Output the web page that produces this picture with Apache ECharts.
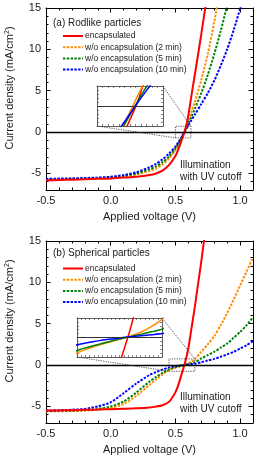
<!DOCTYPE html>
<html><head><meta charset="utf-8">
<script src="https://cdn.jsdelivr.net/npm/echarts@6/dist/echarts.min.js"></script>
<style>html,body{margin:0;padding:0;background:#fff}#c{width:258px;height:461px}</style>
</head><body><div id="c"></div>
<script>
// ---------------- data ----------------
const voltage = [-0.5,-0.4,-0.3,-0.2,-0.1,0,0.1,0.2,0.3,0.35,0.4,0.45,0.5,0.525,0.55,0.575,0.6,0.625,0.65,0.7,0.75,0.8,0.85,0.9,0.95,1.0,1.05,1.1];
const seriesNames = ['encapsulated','w/o encapsulation (2 min)','w/o encapsulation (5 min)','w/o encapsulation (10 min)'];

// (a) Rodlike particles
const rodEncap = [-5.85,-5.8,-5.75,-5.7,-5.65,-5.6,-5.5,-5.4,-5.2,-5.0,-4.65,-4.0,-2.9,-2.0,-0.9,0.2,2.0,4.5,6.9,11.8,17.0];
const rod2min  = [-5.75,-5.72,-5.7,-5.65,-5.6,-5.5,-5.35,-5.1,-4.7,-4.4,-3.9,-3.2,-2.2,-1.5,-0.6,0.4,1.4,2.5,3.6,6.3,9.4,13.3,17.5];
const rod5min  = [-5.7,-5.68,-5.65,-5.6,-5.55,-5.45,-5.3,-5.0,-4.5,-4.15,-3.65,-2.95,-2.0,-1.4,-0.65,0.2,1.0,1.9,2.8,4.7,6.9,9.4,12.2,15.3];
const rod10min = [-5.65,-5.62,-5.6,-5.55,-5.5,-5.4,-5.2,-4.85,-4.25,-3.85,-3.3,-2.6,-1.75,-1.2,-0.55,0.15,0.8,1.45,2.1,3.4,4.7,6.2,8.0,10.0,12.3,14.9,17.6];

// (b) Spherical particles
const sphEncap = [-5.5,-5.48,-5.45,-5.4,-5.37,-5.33,-5.28,-5.22,-5.12,-5.02,-4.85,-4.45,-3.3,-2.3,-1.0,0.3,2.0,4.5,7.0,12.5,18.5];
const sph2min  = [-5.6,-5.58,-5.55,-5.5,-5.4,-5.2,-4.7,-3.7,-2.4,-1.75,-1.15,-0.6,-0.3,-0.18,-0.07,0.05,0.2,0.42,0.7,1.6,2.5,3.5,4.8,6.3,7.9,9.6,11.3,13.0];
const sph5min  = [-5.55,-5.53,-5.5,-5.45,-5.3,-5.0,-4.4,-3.3,-2.0,-1.45,-0.95,-0.5,-0.27,-0.16,-0.06,0.03,0.12,0.22,0.32,0.8,1.2,1.6,2.1,2.6,3.3,4.0,4.8,5.8];
const sph10min = [-5.5,-5.45,-5.4,-5.3,-5.0,-4.5,-3.4,-2.2,-1.2,-0.85,-0.55,-0.28,-0.13,-0.07,-0.02,0.03,0.07,0.11,0.15,0.35,0.55,0.75,1.0,1.3,1.6,2.0,2.4,2.9];

const xMajorTicks = [-0.5,0,0.5,1.0];
const yMajorTicks = [-5,0,5,10,15];
const xRange = [-0.5,1.1];
const yRange = [-7,15];
const panelTitles = ['(a) Rodlike particles','(b) Spherical particles'];
const noteText = 'Illumination\nwith UV cutoff';
const xTitle = 'Applied voltage (V)';
const yTitle = 'Current density (mA/cm{sup|2})';
const zoomX = [[0.5,0.62],[0.45,0.65]];
const zoomY = [[-0.7,0.7],[-0.75,0.75]];

// ---------------- style / layout ----------------
const colors = ['#ff0000','#ff8c00','#008000','#0000ff'];
const FONT = '"Liberation Sans", Arial, sans-serif';
const TXT = '#1a1a1a';
const mainGrids  = [{left:46, top:8, width:207, height:182},{left:46, top:241, width:207, height:182}];
const insetGrids = [{left:97, top:86, width:66, height:40},{left:77, top:318, width:85, height:39}];
const legendTops = [31.5, 264];
const titleTops = [18.5, 248.5];
const noteTops = [158.5, 390.5];
const panels = [[rodEncap,rod2min,rod5min,rod10min],[sphEncap,sph2min,sph5min,sph10min]];

const grids=[], xAxes=[], yAxes=[], series=[], legends=[], titles=[], graphics=[];

function axisBase(gridIndex,min,max,pos){
  return {type:'value',gridIndex,min,max,position:pos,splitLine:{show:false},
    axisLine:{show:true,onZero:false,lineStyle:{color:'#000',width:1}},
    axisLabel:{show:false},
    axisTick:{show:true,inside:true,length:4.5,lineStyle:{color:'#000',width:1}},
    minorTick:{show:false}};
}
function pairs(arr){ return arr.map((v,i)=>[voltage[i],v]); }

const mainSeriesIdx=[], insetSeriesIdx=[];

panels.forEach((data,p)=>{
  const gMain = grids.length; grids.push(Object.assign({outerBoundsMode:'none',containLabel:false}, mainGrids[p]));
  const gIn = grids.length; grids.push(Object.assign({show:false,outerBoundsMode:'none',containLabel:false}, insetGrids[p]));

  const xMajor = xAxes.length;
  const xb = axisBase(gMain,xRange[0],xRange[1],'bottom');
  xb.axisTick.customValues = xMajorTicks;
  xb.axisLabel = {show:true,customValues:xMajorTicks,formatter:v=>v.toFixed(1),fontSize:11,color:TXT,fontFamily:FONT,margin:5};
  xb.name = xTitle; xb.nameLocation='middle'; xb.nameGap=21;
  xb.nameTextStyle={fontSize:11,color:TXT,fontFamily:FONT};
  xAxes.push(xb);
  const xbm = axisBase(gMain,xRange[0],xRange[1],'bottom'); xbm.interval=0.1; xbm.axisTick.length=2.5; xbm.axisLine.show=false; xAxes.push(xbm);
  const xt = axisBase(gMain,xRange[0],xRange[1],'top'); xt.axisTick.customValues=xMajorTicks; xAxes.push(xt);
  const xtm = axisBase(gMain,xRange[0],xRange[1],'top'); xtm.interval=0.1; xtm.axisTick.length=2.5; xtm.axisLine.show=false; xAxes.push(xtm);

  const yMajor = yAxes.length;
  const yl = axisBase(gMain,yRange[0],yRange[1],'left');
  yl.axisTick.customValues = yMajorTicks;
  yl.axisLabel = {show:true,customValues:yMajorTicks,fontSize:11,color:TXT,fontFamily:FONT,margin:5};
  yl.name = yTitle; yl.nameLocation='middle'; yl.nameGap=30;
  yl.nameTextStyle={fontSize:11,color:TXT,fontFamily:FONT,padding:[0,0,0,22],
    rich:{sup:{fontSize:7,verticalAlign:'top',padding:[0,0,5,0],color:TXT,fontFamily:FONT}}};
  yAxes.push(yl);
  const ylm = axisBase(gMain,yRange[0],yRange[1],'left'); ylm.interval=1; ylm.axisTick.length=2.5; ylm.axisLine.show=false; yAxes.push(ylm);
  const yr = axisBase(gMain,yRange[0],yRange[1],'right'); yr.axisTick.customValues=yMajorTicks; yAxes.push(yr);
  const yrm = axisBase(gMain,yRange[0],yRange[1],'right'); yrm.interval=1; yrm.axisTick.length=2.5; yrm.axisLine.show=false; yAxes.push(yrm);

  const xIn = xAxes.length;
  ['bottom','top'].forEach(pos=>{ const a=axisBase(gIn,zoomX[p][0],zoomX[p][1],pos); a.interval=0.01; a.axisTick.length=2;
    a.axisLine.lineStyle={color:'#333',width:0.8}; a.axisTick.lineStyle={color:'#555',width:0.7}; xAxes.push(a); });
  const yIn = yAxes.length;
  ['left','right'].forEach(pos=>{ const a=axisBase(gIn,zoomY[p][0],zoomY[p][1],pos); a.interval=(zoomY[p][1]-zoomY[p][0])/10; a.axisTick.length=2;
    a.axisLine.lineStyle={color:'#333',width:0.8}; a.axisTick.lineStyle={color:'#555',width:0.7}; yAxes.push(a); });

  data.forEach((arr,k)=>{
    const s = {type:'line',name:seriesNames[k],xAxisIndex:xMajor,yAxisIndex:yMajor,data:pairs(arr),
      symbol:'none',smooth:0.25,clip:true,animation:false,z:3+(k===0?1:0),
      lineStyle:{color:colors[k],width:2,type:k===0?'solid':[2.4,1.4]},itemStyle:{color:colors[k]}};
    if(k===0){
      s.markLine={silent:true,symbol:'none',animation:false,label:{show:false},
        lineStyle:{color:'#000',width:1.3,type:'solid'},data:[{yAxis:0}]};
      s.markArea={silent:true,animation:false,itemStyle:{color:'rgba(0,0,0,0)',borderColor:'#444',borderWidth:0.9,borderType:[1.2,1.2]},
        data:[[{xAxis:zoomX[p][0],yAxis:zoomY[p][0]},{xAxis:zoomX[p][1],yAxis:zoomY[p][1]}]]};
      mainSeriesIdx.push(series.length);
    }
    series.push(s);
  });
  data.forEach((arr,k)=>{
    const s = {type:'line',name:seriesNames[k],xAxisIndex:xIn,yAxisIndex:yIn,data:pairs(arr),
      symbol:'none',smooth:0.25,clip:true,animation:false,z:3,
      lineStyle:{color:colors[k],width:1.5,type:'solid'},itemStyle:{color:colors[k]}};
    if(k===0){
      s.markLine={silent:true,symbol:'none',animation:false,label:{show:false},
        lineStyle:{color:'#333',width:1,type:'solid'},data:[{yAxis:0}]};
      insetSeriesIdx.push(series.length);
    }
    series.push(s);
  });

  legends.push({data:seriesNames,orient:'vertical',left:62,top:legendTops[p],padding:0,
    itemWidth:20,itemHeight:9,itemGap:2.2,selectedMode:false,
    itemStyle:{opacity:0},lineStyle:{width:2},
    textStyle:{fontSize:8.5,color:TXT,fontFamily:FONT,padding:[0,0,0,-3]}});
  titles.push({text:panelTitles[p],left:53,top:titleTops[p],padding:0,
    textStyle:{fontSize:10,fontWeight:'normal',color:TXT,fontFamily:FONT}});
  graphics.push({type:'text',left:180,top:noteTops[p],silent:true,
    style:{text:noteText,font:'10px '+FONT,fill:TXT,lineHeight:12.5}});
});

const chart = echarts.init(document.getElementById('c'),null,{renderer:'canvas'});
chart.setOption({animation:false,backgroundColor:'#fff',grid:grids,xAxis:xAxes,yAxis:yAxes,
  series,legend:legends,title:titles,graphic:graphics});

const connectors=[];
[0,1].forEach(p=>{
  const m = mainSeriesIdx[p], n = insetSeriesIdx[p];
  const a1 = chart.convertToPixel({seriesIndex:n},[zoomX[p][1],zoomY[p][1]]);
  const b1 = chart.convertToPixel({seriesIndex:m},[zoomX[p][1],zoomY[p][1]]);
  const a2 = chart.convertToPixel({seriesIndex:n},[zoomX[p][0],zoomY[p][0]]);
  const b2 = chart.convertToPixel({seriesIndex:m},[zoomX[p][0],zoomY[p][0]]);
  [[a1,b1],[a2,b2]].forEach(([a,b])=>connectors.push({type:'line',silent:true,z:10,
    shape:{x1:a[0],y1:a[1],x2:b[0],y2:b[1]},style:{stroke:'#444',lineWidth:0.9,lineDash:[1.2,1.2]}}));
});
chart.setOption({graphic:graphics.concat(connectors)});
</script></body></html>
